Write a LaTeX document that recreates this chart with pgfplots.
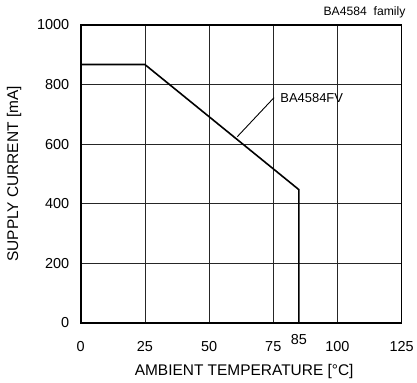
\documentclass[border=0pt]{standalone}
\usepackage{fontspec}
\setmainfont{Liberation Sans}
\usepackage{pgfplots}
\pgfplotsset{compat=1.18}
\begin{document}
\begin{tikzpicture}[x=1pt,y=1pt]
\begin{axis}[
  at={(0,0)}, anchor=south west,
  scale only axis, width=322pt, height=299pt,
  xmin=0, xmax=125, ymin=0, ymax=1000,
  xtick={0,25,50,75,100,125},
  ytick={0,200,400,600,800,1000},
  extra x ticks={85},
  extra x tick style={grid=none, major tick length=0pt, tick label style={yshift=7pt}},
  grid=major,
  major grid style={black!85, line width=0.7pt},
  major tick length=0pt,
  axis line style={line width=1.6pt},
  /pgf/number format/assume math mode=true,
  /pgf/number format/1000 sep={},
  tick label style={font=\fontsize{14.5}{16}\selectfont},
  xticklabel style={yshift=-15pt},
  yticklabel style={xshift=-8pt},
  xlabel={AMBIENT TEMPERATURE [\textdegree C]},
  ylabel={SUPPLY CURRENT [mA]},
  label style={font=\fontsize{15.5}{17}\selectfont},
  xlabel style={yshift=-6pt, xshift=3pt},
  ylabel style={yshift=9pt},
  clip=false,
]
\addplot[black, line width=1.6pt] coordinates {(0,867) (25,867) (85,447) (85,0)};
\draw[black, line width=0.9pt] (axis cs:61,625) -- (axis cs:75.3,756);
\node[anchor=west, inner sep=0pt, font=\fontsize{13}{15}\selectfont] at (axis cs:77.7,755) {BA4584FV};
\end{axis}
\node[anchor=east, inner sep=0pt, font=\fontsize{12.2}{14}\selectfont] at (326,311.5) {BA4584\ \ family};
\path[use as bounding box] (-81,-59) rectangle (336,324);
\end{tikzpicture}
\end{document}
